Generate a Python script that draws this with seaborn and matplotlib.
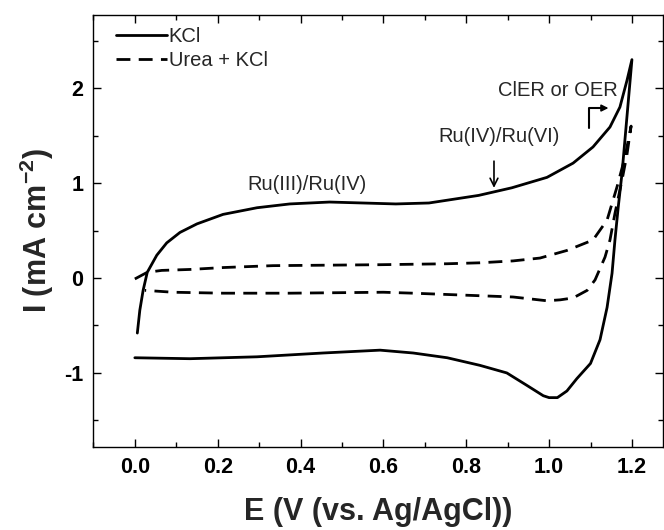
import matplotlib
matplotlib.use("Agg")
import matplotlib.pyplot as plt
import seaborn as sns
import pandas as pd
from matplotlib.ticker import MultipleLocator

# ---- data ----
kcl_fwd_x = [0.006, 0.012, 0.02, 0.03, 0.053, 0.077, 0.109, 0.15, 0.213, 0.295, 0.374, 0.47,
             0.55, 0.63, 0.71, 0.83, 0.91, 0.995, 1.058, 1.106, 1.147, 1.171, 1.188, 1.20]
kcl_fwd_y = [-0.58, -0.34, -0.13, 0.06, 0.24, 0.37, 0.48, 0.57, 0.67, 0.74, 0.78, 0.80,
             0.79, 0.78, 0.79, 0.87, 0.95, 1.06, 1.21, 1.38, 1.59, 1.80, 2.08, 2.30]
kcl_rev_x = [1.20, 1.19, 1.183, 1.176, 1.167, 1.159, 1.152, 1.14, 1.123, 1.10, 1.067, 1.043,
             1.02, 1.0, 0.986, 0.946, 0.898, 0.833, 0.754, 0.672, 0.592, 0.454, 0.295, 0.133, 0.0]
kcl_rev_y = [2.30, 1.80, 1.45, 1.10, 0.75, 0.40, 0.05, -0.31, -0.65, -0.90, -1.06, -1.19,
             -1.26, -1.26, -1.24, -1.13, -1.00, -0.92, -0.84, -0.79, -0.76, -0.79, -0.83, -0.85, -0.84]

urea_fwd_x = [0.0, 0.03, 0.065, 0.133, 0.213, 0.333, 0.592, 0.754, 0.833, 0.913, 0.978, 1.043,
              1.106, 1.14, 1.164, 1.183, 1.198]
urea_fwd_y = [-0.01, 0.06, 0.08, 0.09, 0.11, 0.13, 0.14, 0.15, 0.16, 0.18, 0.21, 0.29,
              0.40, 0.61, 0.96, 1.27, 1.60]
urea_rev_x = [1.198, 1.188, 1.176, 1.159, 1.147, 1.135, 1.111, 1.092, 1.058, 1.027, 0.995,
              0.913, 0.792, 0.672, 0.6, 0.374, 0.213, 0.092, 0.024]
urea_rev_y = [1.60, 1.30, 1.03, 0.68, 0.40, 0.22, -0.02, -0.13, -0.21, -0.23, -0.24,
              -0.20, -0.18, -0.16, -0.15, -0.16, -0.16, -0.15, -0.13]

series_labels = ["KCl", "Urea + KCl"]
x_ticks = [0.0, 0.2, 0.4, 0.6, 0.8, 1.0, 1.2]
y_ticks = [-1, 0, 1, 2]

kcl = pd.DataFrame({"E": kcl_fwd_x + kcl_rev_x, "I": kcl_fwd_y + kcl_rev_y})
urea = pd.DataFrame({"E": urea_fwd_x + urea_rev_x, "I": urea_fwd_y + urea_rev_y})

sns.set_style("ticks")
plt.rcParams["font.family"] = ["Liberation Sans", "DejaVu Sans"]
plt.rcParams["mathtext.fontset"] = "custom"
plt.rcParams["mathtext.rm"] = "Liberation Sans:bold"
plt.rcParams["mathtext.bf"] = "Liberation Sans:bold"
plt.rcParams["mathtext.it"] = "Liberation Sans:bold"

fig = plt.figure(figsize=(6.64, 5.30), dpi=100)
ax = fig.add_axes([93 / 664, (530 - 447) / 530, (663 - 93) / 664, (447 - 15) / 530])

sns.lineplot(data=kcl, x="E", y="I", sort=False, estimator=None, color="black",
             linewidth=2.0, label=series_labels[0], ax=ax)
sns.lineplot(data=urea, x="E", y="I", sort=False, estimator=None, color="black",
             linewidth=2.0, linestyle=(0, (5, 3)), label=series_labels[1], ax=ax)

ax.set_xlim(-0.101, 1.275)
ax.set_ylim(-1.78, 2.77)
ax.set_xticks(x_ticks)
ax.set_xticklabels([f"{v:.1f}" for v in x_ticks])
ax.set_yticks(y_ticks)
ax.set_yticklabels([str(v) for v in y_ticks])
ax.xaxis.set_minor_locator(MultipleLocator(0.1))
ax.yaxis.set_minor_locator(MultipleLocator(0.5))
ax.tick_params(which="both", direction="in", top=True, right=True, width=1, colors="black")
ax.tick_params(which="major", length=6, labelsize=15.5, pad=7)
ax.tick_params(which="minor", length=3.5)
for lab in ax.get_xticklabels() + ax.get_yticklabels():
    lab.set_fontweight("bold")
for s in ax.spines.values():
    s.set_visible(True)
    s.set_linewidth(1.0)
    s.set_color("black")

ax.set_xlabel("E (V (vs. Ag/AgCl))", fontsize=22, fontweight="bold", labelpad=14)
ax.set_ylabel(r"I (mA cm$^{-2}$)", fontsize=22, fontweight="bold", labelpad=6)

leg = ax.legend(loc="upper left", frameon=False, fontsize=14.5, handlelength=2.5,
                handletextpad=0.1, borderaxespad=0.2, labelspacing=0.25,
                bbox_to_anchor=(0.02, 1.0))

ann_fs = 14.5
ax.text(0.415, 0.99, "Ru(III)/Ru(IV)", fontsize=ann_fs, ha="center", va="center")
ax.text(0.88, 1.49, "Ru(IV)/Ru(VI)", fontsize=ann_fs, ha="center", va="center")
ax.text(1.022, 1.98, "ClER or OER", fontsize=ann_fs, ha="center", va="center")
ax.annotate("", xy=(0.867, 0.92), xytext=(0.867, 1.26),
            arrowprops=dict(arrowstyle="->", color="black", lw=1.2, mutation_scale=14))
ax.plot([1.097, 1.097, 1.125], [1.58, 1.79, 1.79], color="black", lw=1.5)
ax.annotate("", xy=(1.15, 1.79), xytext=(1.12, 1.79),
            arrowprops=dict(arrowstyle="-|>", color="black", lw=1.2, mutation_scale=10))

fig.savefig("out.png", dpi=100)
